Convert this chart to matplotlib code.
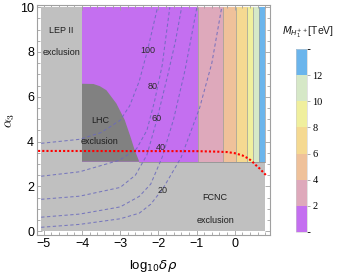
import numpy as np
import matplotlib.pyplot as plt
from matplotlib.colors import ListedColormap, BoundaryNorm
from matplotlib.ticker import MultipleLocator

plt.rcParams['font.family'] = ['Liberation Sans', 'DejaVu Sans']
plt.rcParams['font.size'] = 9
plt.rcParams['mathtext.fontset'] = 'dejavusans'

# colours
LIGHT_GRAY = '#c0c0c0'
DARK_GRAY = '#818181'
FRAME = '#a0a0a0'
CONTOUR = '#6a6abc'

# mass bands (vertical strips in log10 delta rho)
band_edges = [-4.0, -0.96, -0.31, 0.04, 0.31, 0.48, 0.64, 0.80]
band_mass = [1, 3, 5, 7, 9, 11, 13]
mass_levels = [0, 2, 4, 6, 8, 10, 12, 14]
band_colors = ['#c46ff0', '#dea9bb', '#efc19a', '#f5d991', '#f0ef9d', '#d6e8c7', '#6bb5ec']
band_ymin, band_ymax = 3.1, 10.0

# exclusion regions
lep_x = [-5.07, -4.0]
fcnc_x = [-4.0, 0.80]
fcnc_ytop = 3.1
lhc_x = [-4.0, -4.0, -3.7, -3.53, -3.36, -3.1, -2.88, -2.73, -2.62, -2.5]
lhc_y = [3.1, 6.58, 6.57, 6.47, 6.29, 5.7, 4.96, 4.21, 3.62, 3.1]

# dashed contours
contours = {
    20: ([-5.07, -4.06, -3.0, -2.5, -2.2, -1.88, -1.4, -0.92, -0.6, -0.34],
         [0.17, 0.30, 0.55, 0.8, 1.2, 1.9, 3.3, 5.5, 7.5, 10.0]),
    40: ([-5.07, -4.06, -3.0, -2.5, -2.2, -1.9, -1.6, -1.3, -0.99],
         [0.62, 0.76, 1.08, 1.55, 2.1, 3.3, 5.0, 7.2, 10.0]),
    60: ([-5.07, -4.06, -3.0, -2.6, -2.3, -2.05, -1.75, -1.55, -1.39],
         [1.42, 1.56, 1.95, 2.5, 3.4, 4.9, 7.0, 8.5, 10.0]),
    80: ([-5.07, -4.06, -3.01, -2.57, -2.3, -2.1, -1.9, -1.70],
         [2.45, 2.65, 3.17, 3.68, 4.5, 5.8, 7.4, 10.0]),
    100: ([-5.07, -4.06, -3.5, -3.0, -2.75, -2.5, -2.28, -2.02],
          [3.92, 4.1, 4.4, 4.95, 5.6, 6.7, 8.1, 10.0]),
}
contour_label_pos = {20: (-1.88, 1.83), 40: (-1.94, 3.72), 60: (-2.04, 5.04),
                     80: (-2.15, 6.47), 100: (-2.28, 8.08)}

# red dotted bound
red_x = [-5.15, -1.0, -0.5, -0.2, 0.0, 0.2, 0.35, 0.45, 0.55, 0.65, 0.75, 0.82]
red_y = [3.58, 3.57, 3.55, 3.53, 3.48, 3.38, 3.25, 3.12, 2.95, 2.8, 2.62, 2.5]


def plot_mass_plane():
    fig = plt.figure(figsize=(3.39, 2.75), dpi=100)
    ax = fig.add_axes([0.109, 0.145, 0.687, 0.837])

    # coloured mass strips
    cmap = ListedColormap(band_colors)
    norm = BoundaryNorm(mass_levels, cmap.N)
    mesh = ax.pcolormesh(band_edges, [band_ymin, band_ymax], [band_mass],
                         cmap=cmap, norm=norm, shading='flat', zorder=1)
    ax.vlines(band_edges[1:], band_ymin, band_ymax, color='#9a9a9a',
              lw=0.5, zorder=2)

    # exclusion regions
    ax.fill_between(lep_x, 0, 10, color=LIGHT_GRAY, lw=0, zorder=3)
    ax.fill_between(fcnc_x, 0, fcnc_ytop, color=LIGHT_GRAY, lw=0, zorder=3)
    ax.plot([lhc_x[-1], fcnc_x[1]], [fcnc_ytop, fcnc_ytop], color='#888888',
            lw=0.5, zorder=3)
    ax.fill(lhc_x, lhc_y, color=DARK_GRAY, lw=0, zorder=3)

    # dashed contours
    for val, (cx, cy) in contours.items():
        ax.plot(cx, cy, color=CONTOUR, lw=0.75, dashes=(3.2, 2.4),
                alpha=0.85, zorder=4)
        lx, ly = contour_label_pos[val]
        ax.text(lx, ly, str(val), fontsize=6.5, color='#2a2a2a',
                ha='center', va='center', zorder=6)

    # red dotted line
    ax.plot(red_x, red_y, color='#ff0000', lw=1.5, linestyle=(0, (1, 1)),
            zorder=5)

    # region labels
    txt = dict(fontsize=6.5, color='#1e1e1e', ha='center', va='center', zorder=6)
    ax.text(-4.54, 8.94, 'LEP II', **txt)
    ax.text(-4.54, 7.96, 'exclusion', **txt)
    ax.text(-3.53, 4.96, 'LHC', **txt)
    ax.text(-3.53, 3.99, 'exclusion', **txt)
    ax.text(-0.51, 1.5, 'FCNC', **txt)
    ax.text(-0.51, 0.49, 'exclusion', **txt)

    # axes
    ax.set_xlim(-5.18, 0.92)
    ax.set_ylim(-0.18, 10.1)
    ax.xaxis.set_major_locator(MultipleLocator(1))
    ax.xaxis.set_minor_locator(MultipleLocator(0.2))
    ax.yaxis.set_major_locator(MultipleLocator(2))
    ax.yaxis.set_minor_locator(MultipleLocator(0.5))
    ax.tick_params(which='both', direction='in', top=True, right=True,
                   color=FRAME, width=0.6, labelsize=9, pad=2)
    ax.tick_params(which='major', length=3.5)
    ax.tick_params(which='minor', length=2)
    for sp in ax.spines.values():
        sp.set_color(FRAME)
        sp.set_linewidth(0.8)

    ax.set_xlabel(r'$\mathregular{log}_{10}\delta\rho$', fontsize=9.5, labelpad=6)
    ax.set_ylabel(r'$\alpha_3$', fontsize=10, labelpad=2, math_fontfamily='cm')

    # bar legend
    cax = fig.add_axes([0.873, 0.156, 0.032, 0.666])
    cb = fig.colorbar(mesh, cax=cax, ticks=[2, 4, 6, 8, 10, 12])
    cb.outline.set_linewidth(0.4)
    cb.outline.set_edgecolor('#cccccc')
    cax.tick_params(direction='out', length=2.5, width=0.5, color='#888888',
                    labelsize=7.5, pad=1.5)
    for lab in cax.get_yticklabels():
        lab.set_family('Liberation Serif')
    fig.text(0.91, 0.884, r'$M_{H_1^{++}}$[TeV]', fontsize=7.5, ha='center',
             va='center', color='#1e1e1e')

    fig.savefig('out.png', dpi=100, facecolor='white')
    return fig


if __name__ == '__main__':
    plot_mass_plane()
